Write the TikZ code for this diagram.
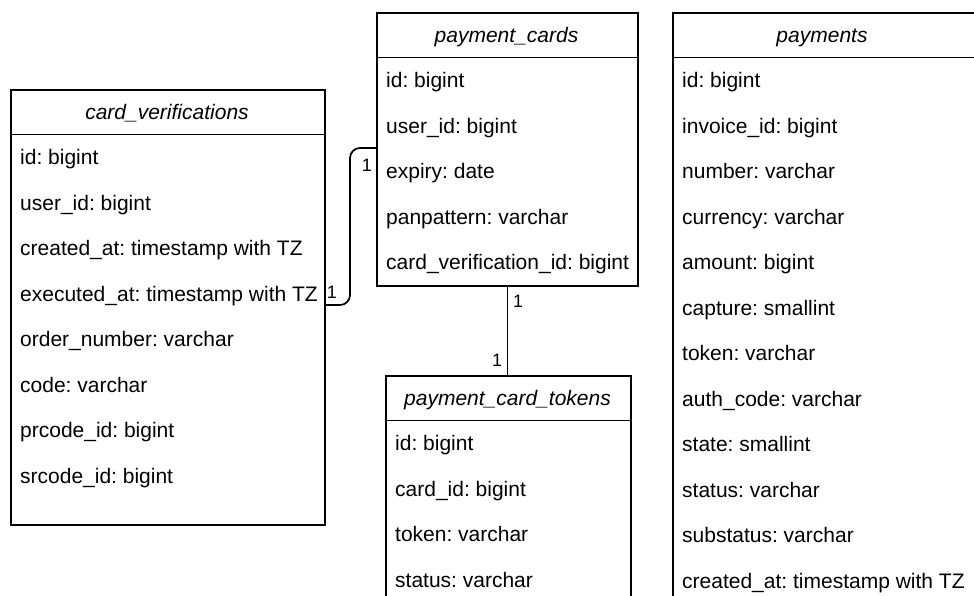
\documentclass[tikz,border=0pt]{standalone}
\usepackage{fontspec}
\setmainfont{Liberation Sans}
\begin{document}
\frenchspacing
\begin{tikzpicture}[x=1pt,y=-1pt,
  tablebox/.style={draw=black, line width=1.75pt, fill=white, inner sep=0pt, anchor=north west},
  rule/.style={line width=1.75pt},
  headtext/.style={anchor=base, inner sep=0pt, font=\fontsize{21}{25}\selectfont\itshape},
  rowtext/.style={anchor=base west, inner sep=0pt, font=\fontsize{21}{25}\selectfont},
  link/.style={line width=1.75pt, rounded corners=10pt},
  card/.style={inner sep=0pt, font=\fontsize{18}{20}\selectfont}]
\clip (0,0) rectangle (974,596);
\fill[white] (0,0) rectangle (974,596);

% card_verifications
\node[tablebox, minimum width=314pt, minimum height=435pt] (cv) at (10,89) {};
\draw[rule] (10,134.5) -- (324,134.5);
\node[headtext] (cvhead) at (167,119.25) {card\_verifications};
\foreach \t [count=\i from 0] in {id: bigint, user\_id: bigint,
    created\_at: timestamp with TZ, executed\_at: timestamp with TZ,
    order\_number: varchar, code: varchar, prcode\_id: bigint, srcode\_id: bigint}
  \node[rowtext] (cvrow\i) at (20,164.75+45.5*\i) {\t};

% payment_cards
\node[tablebox, minimum width=261pt, minimum height=273pt] (pc) at (376,12) {};
\draw[rule] (376,57.5) -- (637,57.5);
\node[headtext] (pchead) at (506.5,42.25) {payment\_cards};
\foreach \t [count=\i from 0] in {id: bigint, user\_id: bigint, expiry: date,
    panpattern: varchar, card\_verification\_id: bigint}
  \node[rowtext] (pcrow\i) at (386,87.75+45.5*\i) {\t};

% payment_card_tokens
\node[tablebox, minimum width=245pt, minimum height=260pt] (pct) at (385,375) {};
\draw[rule] (385,420.5) -- (630,420.5);
\node[headtext] (pcthead) at (507.5,405.25) {payment\_card\_tokens};
\foreach \t [count=\i from 0] in {id: bigint, card\_id: bigint, token: varchar, status: varchar}
  \node[rowtext] (pctrow\i) at (395,450.75+45.5*\i) {\t};

% payments
\node[tablebox, minimum width=330pt, minimum height=640pt] (pay) at (672,12) {};
\draw[rule] (672,57.5) -- (1002,57.5);
\node[headtext] (payhead) at (822,42.25) {payments};
\foreach \t [count=\i from 0] in {id: bigint, invoice\_id: bigint, number: varchar,
    currency: varchar, amount: bigint, capture: smallint, token: varchar,
    auth\_code: varchar, state: smallint, status: varchar, substatus: varchar,
    created\_at: timestamp with TZ}
  \node[rowtext] (payrow\i) at (682,87.75+45.5*\i) {\t};

% relations
\draw[link] ([yshift=-216pt]cv.north east) -| (350,148) -- (pc.west |- 0,148);
\node[card] (c1) at (332,292) {1};
\node[card] (c2) at (367,165) {1};
\draw[line width=1.75pt] (pc.south) -- (pc.south |- pct.north);
\node[card] (c3) at (518,301) {1};
\node[card] (c4) at (497,360) {1};
\end{tikzpicture}
\end{document}
